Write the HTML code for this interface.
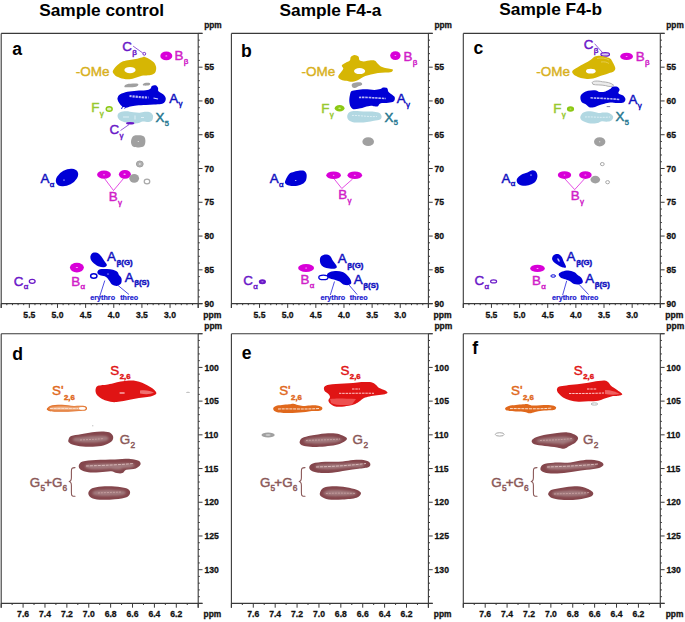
<!DOCTYPE html>
<html><head><meta charset="utf-8"><style>html,body{margin:0;padding:0;background:#fff;}svg{display:block;}</style></head><body>
<svg width="685" height="622" viewBox="0 0 685 622" font-family='"Liberation Sans", sans-serif'>
<defs><filter id="bl" x="-20%" y="-50%" width="140%" height="200%"><feGaussianBlur stdDeviation="0.9"/></filter><filter id="bl2" x="-20%" y="-100%" width="140%" height="300%"><feGaussianBlur stdDeviation="0.35"/></filter></defs>
<rect width="685" height="622" fill="#fff"/>
<text x="39.2" y="15.8" font-size="17.3" fill="#000" font-weight="bold" text-anchor="start" >Sample control</text>
<text x="279.5" y="15.8" font-size="17.3" fill="#000" font-weight="bold" text-anchor="start" >Sample F4-a</text>
<text x="499.3" y="15.1" font-size="17.3" fill="#000" font-weight="bold" text-anchor="start" >Sample F4-b</text>
<path d="M1.2,33.4V307.9M198.2,33.4V307.9M1.2,33.4H202.5M1.2,303.6H202.5" stroke="#3a3a3a" stroke-width="1.1" fill="none"/>
<path d="M1.2,303.6v4.3M6.83,303.6v1.6M12.46,303.6v1.6M18.09,303.6v1.6M23.71,303.6v1.6M29.34,303.6v4.3M34.97,303.6v1.6M40.6,303.6v1.6M46.23,303.6v1.6M51.86,303.6v1.6M57.49,303.6v4.3M63.11,303.6v1.6M68.74,303.6v1.6M74.37,303.6v1.6M80,303.6v1.6M85.63,303.6v4.3M91.26,303.6v1.6M96.89,303.6v1.6M102.51,303.6v1.6M108.14,303.6v1.6M113.77,303.6v4.3M119.4,303.6v1.6M125.03,303.6v1.6M130.66,303.6v1.6M136.29,303.6v1.6M141.91,303.6v4.3M147.54,303.6v1.6M153.17,303.6v1.6M158.8,303.6v1.6M164.43,303.6v1.6M170.06,303.6v4.3M175.69,303.6v1.6M181.31,303.6v1.6M186.94,303.6v1.6M192.57,303.6v1.6M198.2,303.6v4.3" stroke="#3a3a3a" stroke-width="1" fill="none"/>
<text x="29.34" y="317.9" font-size="8.6" fill="#111" font-weight="bold" text-anchor="middle" stroke="#111" stroke-width="0.28">5.5</text>
<text x="57.49" y="317.9" font-size="8.6" fill="#111" font-weight="bold" text-anchor="middle" stroke="#111" stroke-width="0.28">5.0</text>
<text x="85.63" y="317.9" font-size="8.6" fill="#111" font-weight="bold" text-anchor="middle" stroke="#111" stroke-width="0.28">4.5</text>
<text x="113.77" y="317.9" font-size="8.6" fill="#111" font-weight="bold" text-anchor="middle" stroke="#111" stroke-width="0.28">4.0</text>
<text x="141.91" y="317.9" font-size="8.6" fill="#111" font-weight="bold" text-anchor="middle" stroke="#111" stroke-width="0.28">3.5</text>
<text x="170.06" y="317.9" font-size="8.6" fill="#111" font-weight="bold" text-anchor="middle" stroke="#111" stroke-width="0.28">3.0</text>
<path d="M198.2,33.4h4.3M198.2,40.16h1.6M198.2,46.91h1.6M198.2,53.67h1.6M198.2,60.42h1.6M198.2,67.18h4.3M198.2,73.93h1.6M198.2,80.69h1.6M198.2,87.44h1.6M198.2,94.2h1.6M198.2,100.95h4.3M198.2,107.71h1.6M198.2,114.46h1.6M198.2,121.22h1.6M198.2,127.97h1.6M198.2,134.73h4.3M198.2,141.48h1.6M198.2,148.24h1.6M198.2,154.99h1.6M198.2,161.75h1.6M198.2,168.5h4.3M198.2,175.26h1.6M198.2,182.01h1.6M198.2,188.77h1.6M198.2,195.52h1.6M198.2,202.28h4.3M198.2,209.03h1.6M198.2,215.79h1.6M198.2,222.54h1.6M198.2,229.3h1.6M198.2,236.05h4.3M198.2,242.81h1.6M198.2,249.56h1.6M198.2,256.31h1.6M198.2,263.07h1.6M198.2,269.83h4.3M198.2,276.58h1.6M198.2,283.34h1.6M198.2,290.09h1.6M198.2,296.85h1.6M198.2,303.6h4.3" stroke="#3a3a3a" stroke-width="1" fill="none"/>
<text x="204.4" y="70.28" font-size="8.6" fill="#111" font-weight="bold" text-anchor="start" stroke="#111" stroke-width="0.28">55</text>
<text x="204.4" y="104.05" font-size="8.6" fill="#111" font-weight="bold" text-anchor="start" stroke="#111" stroke-width="0.28">60</text>
<text x="204.4" y="137.83" font-size="8.6" fill="#111" font-weight="bold" text-anchor="start" stroke="#111" stroke-width="0.28">65</text>
<text x="204.4" y="171.6" font-size="8.6" fill="#111" font-weight="bold" text-anchor="start" stroke="#111" stroke-width="0.28">70</text>
<text x="204.4" y="205.38" font-size="8.6" fill="#111" font-weight="bold" text-anchor="start" stroke="#111" stroke-width="0.28">75</text>
<text x="204.4" y="239.15" font-size="8.6" fill="#111" font-weight="bold" text-anchor="start" stroke="#111" stroke-width="0.28">80</text>
<text x="204.4" y="272.93" font-size="8.6" fill="#111" font-weight="bold" text-anchor="start" stroke="#111" stroke-width="0.28">85</text>
<text x="204.4" y="306.7" font-size="8.6" fill="#111" font-weight="bold" text-anchor="start" stroke="#111" stroke-width="0.28">90</text>
<text x="204.2" y="28.4" font-size="8.3" fill="#111" font-weight="bold" text-anchor="start" stroke="#111" stroke-width="0.28">ppm</text>
<text x="203.2" y="317.8" font-size="8.6" fill="#111" font-weight="bold" text-anchor="start" stroke="#111" stroke-width="0.28">ppm</text>
<text x="12.3" y="55.4" font-size="17.6" fill="#000" font-weight="bold" text-anchor="start" >a</text>
<path d="M1.2,333.7V607.7M198.2,333.7V607.7M1.2,333.7H202.5M1.2,603.4H202.5" stroke="#3a3a3a" stroke-width="1.1" fill="none"/>
<path d="M1.2,603.4v4.3M12.14,603.4v1.6M23.09,603.4v4.3M34.03,603.4v1.6M44.98,603.4v4.3M55.92,603.4v1.6M66.87,603.4v4.3M77.81,603.4v1.6M88.76,603.4v4.3M99.7,603.4v1.6M110.64,603.4v4.3M121.59,603.4v1.6M132.53,603.4v4.3M143.48,603.4v1.6M154.42,603.4v4.3M165.37,603.4v1.6M176.31,603.4v4.3M187.26,603.4v1.6M198.2,603.4v4.3" stroke="#3a3a3a" stroke-width="1" fill="none"/>
<text x="23.09" y="616.8" font-size="8.6" fill="#111" font-weight="bold" text-anchor="middle" stroke="#111" stroke-width="0.28">7.6</text>
<text x="44.98" y="616.8" font-size="8.6" fill="#111" font-weight="bold" text-anchor="middle" stroke="#111" stroke-width="0.28">7.4</text>
<text x="66.87" y="616.8" font-size="8.6" fill="#111" font-weight="bold" text-anchor="middle" stroke="#111" stroke-width="0.28">7.2</text>
<text x="88.76" y="616.8" font-size="8.6" fill="#111" font-weight="bold" text-anchor="middle" stroke="#111" stroke-width="0.28">7.0</text>
<text x="110.64" y="616.8" font-size="8.6" fill="#111" font-weight="bold" text-anchor="middle" stroke="#111" stroke-width="0.28">6.8</text>
<text x="132.53" y="616.8" font-size="8.6" fill="#111" font-weight="bold" text-anchor="middle" stroke="#111" stroke-width="0.28">6.6</text>
<text x="154.42" y="616.8" font-size="8.6" fill="#111" font-weight="bold" text-anchor="middle" stroke="#111" stroke-width="0.28">6.4</text>
<text x="176.31" y="616.8" font-size="8.6" fill="#111" font-weight="bold" text-anchor="middle" stroke="#111" stroke-width="0.28">6.2</text>
<path d="M198.2,333.7h4.3M198.2,340.44h1.6M198.2,347.19h1.6M198.2,353.93h1.6M198.2,360.67h1.6M198.2,367.41h4.3M198.2,374.15h1.6M198.2,380.9h1.6M198.2,387.64h1.6M198.2,394.38h1.6M198.2,401.12h4.3M198.2,407.87h1.6M198.2,414.61h1.6M198.2,421.35h1.6M198.2,428.09h1.6M198.2,434.84h4.3M198.2,441.58h1.6M198.2,448.32h1.6M198.2,455.06h1.6M198.2,461.81h1.6M198.2,468.55h4.3M198.2,475.29h1.6M198.2,482.03h1.6M198.2,488.78h1.6M198.2,495.52h1.6M198.2,502.26h4.3M198.2,509h1.6M198.2,515.75h1.6M198.2,522.49h1.6M198.2,529.23h1.6M198.2,535.97h4.3M198.2,542.72h1.6M198.2,549.46h1.6M198.2,556.2h1.6M198.2,562.94h1.6M198.2,569.69h4.3M198.2,576.43h1.6M198.2,583.17h1.6M198.2,589.91h1.6M198.2,596.66h1.6M198.2,603.4h4.3" stroke="#3a3a3a" stroke-width="1" fill="none"/>
<text x="204.4" y="370.51" font-size="8.6" fill="#111" font-weight="bold" text-anchor="start" stroke="#111" stroke-width="0.28">100</text>
<text x="204.4" y="404.23" font-size="8.6" fill="#111" font-weight="bold" text-anchor="start" stroke="#111" stroke-width="0.28">105</text>
<text x="204.4" y="437.94" font-size="8.6" fill="#111" font-weight="bold" text-anchor="start" stroke="#111" stroke-width="0.28">110</text>
<text x="204.4" y="471.65" font-size="8.6" fill="#111" font-weight="bold" text-anchor="start" stroke="#111" stroke-width="0.28">115</text>
<text x="204.4" y="505.36" font-size="8.6" fill="#111" font-weight="bold" text-anchor="start" stroke="#111" stroke-width="0.28">120</text>
<text x="204.4" y="539.07" font-size="8.6" fill="#111" font-weight="bold" text-anchor="start" stroke="#111" stroke-width="0.28">125</text>
<text x="204.4" y="572.79" font-size="8.6" fill="#111" font-weight="bold" text-anchor="start" stroke="#111" stroke-width="0.28">130</text>
<text x="204.2" y="328.9" font-size="8.5" fill="#111" font-weight="bold" text-anchor="start" stroke="#111" stroke-width="0.28">ppm</text>
<text x="203.6" y="616.8" font-size="8.4" fill="#111" font-weight="bold" text-anchor="start" stroke="#111" stroke-width="0.28">ppm</text>
<text x="12.3" y="360" font-size="17.6" fill="#000" font-weight="bold" text-anchor="start" >d</text>
<path d="M231.4,33.4V307.9M428.4,33.4V307.9M231.4,33.4H432.7M231.4,303.6H432.7" stroke="#3a3a3a" stroke-width="1.1" fill="none"/>
<path d="M231.4,303.6v4.3M237.03,303.6v1.6M242.66,303.6v1.6M248.29,303.6v1.6M253.91,303.6v1.6M259.54,303.6v4.3M265.17,303.6v1.6M270.8,303.6v1.6M276.43,303.6v1.6M282.06,303.6v1.6M287.69,303.6v4.3M293.31,303.6v1.6M298.94,303.6v1.6M304.57,303.6v1.6M310.2,303.6v1.6M315.83,303.6v4.3M321.46,303.6v1.6M327.09,303.6v1.6M332.71,303.6v1.6M338.34,303.6v1.6M343.97,303.6v4.3M349.6,303.6v1.6M355.23,303.6v1.6M360.86,303.6v1.6M366.49,303.6v1.6M372.11,303.6v4.3M377.74,303.6v1.6M383.37,303.6v1.6M389,303.6v1.6M394.63,303.6v1.6M400.26,303.6v4.3M405.89,303.6v1.6M411.51,303.6v1.6M417.14,303.6v1.6M422.77,303.6v1.6M428.4,303.6v4.3" stroke="#3a3a3a" stroke-width="1" fill="none"/>
<text x="259.54" y="317.9" font-size="8.6" fill="#111" font-weight="bold" text-anchor="middle" stroke="#111" stroke-width="0.28">5.5</text>
<text x="287.69" y="317.9" font-size="8.6" fill="#111" font-weight="bold" text-anchor="middle" stroke="#111" stroke-width="0.28">5.0</text>
<text x="315.83" y="317.9" font-size="8.6" fill="#111" font-weight="bold" text-anchor="middle" stroke="#111" stroke-width="0.28">4.5</text>
<text x="343.97" y="317.9" font-size="8.6" fill="#111" font-weight="bold" text-anchor="middle" stroke="#111" stroke-width="0.28">4.0</text>
<text x="372.11" y="317.9" font-size="8.6" fill="#111" font-weight="bold" text-anchor="middle" stroke="#111" stroke-width="0.28">3.5</text>
<text x="400.26" y="317.9" font-size="8.6" fill="#111" font-weight="bold" text-anchor="middle" stroke="#111" stroke-width="0.28">3.0</text>
<path d="M428.4,33.4h4.3M428.4,40.16h1.6M428.4,46.91h1.6M428.4,53.67h1.6M428.4,60.42h1.6M428.4,67.18h4.3M428.4,73.93h1.6M428.4,80.69h1.6M428.4,87.44h1.6M428.4,94.2h1.6M428.4,100.95h4.3M428.4,107.71h1.6M428.4,114.46h1.6M428.4,121.22h1.6M428.4,127.97h1.6M428.4,134.73h4.3M428.4,141.48h1.6M428.4,148.24h1.6M428.4,154.99h1.6M428.4,161.75h1.6M428.4,168.5h4.3M428.4,175.26h1.6M428.4,182.01h1.6M428.4,188.77h1.6M428.4,195.52h1.6M428.4,202.28h4.3M428.4,209.03h1.6M428.4,215.79h1.6M428.4,222.54h1.6M428.4,229.3h1.6M428.4,236.05h4.3M428.4,242.81h1.6M428.4,249.56h1.6M428.4,256.31h1.6M428.4,263.07h1.6M428.4,269.83h4.3M428.4,276.58h1.6M428.4,283.34h1.6M428.4,290.09h1.6M428.4,296.85h1.6M428.4,303.6h4.3" stroke="#3a3a3a" stroke-width="1" fill="none"/>
<text x="434.6" y="70.28" font-size="8.6" fill="#111" font-weight="bold" text-anchor="start" stroke="#111" stroke-width="0.28">55</text>
<text x="434.6" y="104.05" font-size="8.6" fill="#111" font-weight="bold" text-anchor="start" stroke="#111" stroke-width="0.28">60</text>
<text x="434.6" y="137.83" font-size="8.6" fill="#111" font-weight="bold" text-anchor="start" stroke="#111" stroke-width="0.28">65</text>
<text x="434.6" y="171.6" font-size="8.6" fill="#111" font-weight="bold" text-anchor="start" stroke="#111" stroke-width="0.28">70</text>
<text x="434.6" y="205.38" font-size="8.6" fill="#111" font-weight="bold" text-anchor="start" stroke="#111" stroke-width="0.28">75</text>
<text x="434.6" y="239.15" font-size="8.6" fill="#111" font-weight="bold" text-anchor="start" stroke="#111" stroke-width="0.28">80</text>
<text x="434.6" y="272.93" font-size="8.6" fill="#111" font-weight="bold" text-anchor="start" stroke="#111" stroke-width="0.28">85</text>
<text x="434.6" y="306.7" font-size="8.6" fill="#111" font-weight="bold" text-anchor="start" stroke="#111" stroke-width="0.28">90</text>
<text x="434.4" y="28.4" font-size="8.3" fill="#111" font-weight="bold" text-anchor="start" stroke="#111" stroke-width="0.28">ppm</text>
<text x="433.4" y="317.8" font-size="8.6" fill="#111" font-weight="bold" text-anchor="start" stroke="#111" stroke-width="0.28">ppm</text>
<text x="241.1" y="57.3" font-size="17.6" fill="#000" font-weight="bold" text-anchor="start" >b</text>
<path d="M231.4,333.7V607.7M428.4,333.7V607.7M231.4,333.7H432.7M231.4,603.4H432.7" stroke="#3a3a3a" stroke-width="1.1" fill="none"/>
<path d="M231.4,603.4v4.3M242.34,603.4v1.6M253.29,603.4v4.3M264.23,603.4v1.6M275.18,603.4v4.3M286.12,603.4v1.6M297.07,603.4v4.3M308.01,603.4v1.6M318.96,603.4v4.3M329.9,603.4v1.6M340.84,603.4v4.3M351.79,603.4v1.6M362.73,603.4v4.3M373.68,603.4v1.6M384.62,603.4v4.3M395.57,603.4v1.6M406.51,603.4v4.3M417.46,603.4v1.6M428.4,603.4v4.3" stroke="#3a3a3a" stroke-width="1" fill="none"/>
<text x="253.29" y="616.8" font-size="8.6" fill="#111" font-weight="bold" text-anchor="middle" stroke="#111" stroke-width="0.28">7.6</text>
<text x="275.18" y="616.8" font-size="8.6" fill="#111" font-weight="bold" text-anchor="middle" stroke="#111" stroke-width="0.28">7.4</text>
<text x="297.07" y="616.8" font-size="8.6" fill="#111" font-weight="bold" text-anchor="middle" stroke="#111" stroke-width="0.28">7.2</text>
<text x="318.96" y="616.8" font-size="8.6" fill="#111" font-weight="bold" text-anchor="middle" stroke="#111" stroke-width="0.28">7.0</text>
<text x="340.84" y="616.8" font-size="8.6" fill="#111" font-weight="bold" text-anchor="middle" stroke="#111" stroke-width="0.28">6.8</text>
<text x="362.73" y="616.8" font-size="8.6" fill="#111" font-weight="bold" text-anchor="middle" stroke="#111" stroke-width="0.28">6.6</text>
<text x="384.62" y="616.8" font-size="8.6" fill="#111" font-weight="bold" text-anchor="middle" stroke="#111" stroke-width="0.28">6.4</text>
<text x="406.51" y="616.8" font-size="8.6" fill="#111" font-weight="bold" text-anchor="middle" stroke="#111" stroke-width="0.28">6.2</text>
<path d="M428.4,333.7h4.3M428.4,340.44h1.6M428.4,347.19h1.6M428.4,353.93h1.6M428.4,360.67h1.6M428.4,367.41h4.3M428.4,374.15h1.6M428.4,380.9h1.6M428.4,387.64h1.6M428.4,394.38h1.6M428.4,401.12h4.3M428.4,407.87h1.6M428.4,414.61h1.6M428.4,421.35h1.6M428.4,428.09h1.6M428.4,434.84h4.3M428.4,441.58h1.6M428.4,448.32h1.6M428.4,455.06h1.6M428.4,461.81h1.6M428.4,468.55h4.3M428.4,475.29h1.6M428.4,482.03h1.6M428.4,488.78h1.6M428.4,495.52h1.6M428.4,502.26h4.3M428.4,509h1.6M428.4,515.75h1.6M428.4,522.49h1.6M428.4,529.23h1.6M428.4,535.97h4.3M428.4,542.72h1.6M428.4,549.46h1.6M428.4,556.2h1.6M428.4,562.94h1.6M428.4,569.69h4.3M428.4,576.43h1.6M428.4,583.17h1.6M428.4,589.91h1.6M428.4,596.66h1.6M428.4,603.4h4.3" stroke="#3a3a3a" stroke-width="1" fill="none"/>
<text x="434.6" y="370.51" font-size="8.6" fill="#111" font-weight="bold" text-anchor="start" stroke="#111" stroke-width="0.28">100</text>
<text x="434.6" y="404.23" font-size="8.6" fill="#111" font-weight="bold" text-anchor="start" stroke="#111" stroke-width="0.28">105</text>
<text x="434.6" y="437.94" font-size="8.6" fill="#111" font-weight="bold" text-anchor="start" stroke="#111" stroke-width="0.28">110</text>
<text x="434.6" y="471.65" font-size="8.6" fill="#111" font-weight="bold" text-anchor="start" stroke="#111" stroke-width="0.28">115</text>
<text x="434.6" y="505.36" font-size="8.6" fill="#111" font-weight="bold" text-anchor="start" stroke="#111" stroke-width="0.28">120</text>
<text x="434.6" y="539.07" font-size="8.6" fill="#111" font-weight="bold" text-anchor="start" stroke="#111" stroke-width="0.28">125</text>
<text x="434.6" y="572.79" font-size="8.6" fill="#111" font-weight="bold" text-anchor="start" stroke="#111" stroke-width="0.28">130</text>
<text x="434.4" y="328.9" font-size="8.5" fill="#111" font-weight="bold" text-anchor="start" stroke="#111" stroke-width="0.28">ppm</text>
<text x="433.8" y="616.8" font-size="8.4" fill="#111" font-weight="bold" text-anchor="start" stroke="#111" stroke-width="0.28">ppm</text>
<text x="241.7" y="358.8" font-size="17.6" fill="#000" font-weight="bold" text-anchor="start" >e</text>
<path d="M463.3,33.4V307.9M660.3,33.4V307.9M463.3,33.4H664.6M463.3,303.6H664.6" stroke="#3a3a3a" stroke-width="1.1" fill="none"/>
<path d="M463.3,303.6v4.3M468.93,303.6v1.6M474.56,303.6v1.6M480.19,303.6v1.6M485.81,303.6v1.6M491.44,303.6v4.3M497.07,303.6v1.6M502.7,303.6v1.6M508.33,303.6v1.6M513.96,303.6v1.6M519.59,303.6v4.3M525.21,303.6v1.6M530.84,303.6v1.6M536.47,303.6v1.6M542.1,303.6v1.6M547.73,303.6v4.3M553.36,303.6v1.6M558.99,303.6v1.6M564.61,303.6v1.6M570.24,303.6v1.6M575.87,303.6v4.3M581.5,303.6v1.6M587.13,303.6v1.6M592.76,303.6v1.6M598.39,303.6v1.6M604.01,303.6v4.3M609.64,303.6v1.6M615.27,303.6v1.6M620.9,303.6v1.6M626.53,303.6v1.6M632.16,303.6v4.3M637.79,303.6v1.6M643.41,303.6v1.6M649.04,303.6v1.6M654.67,303.6v1.6M660.3,303.6v4.3" stroke="#3a3a3a" stroke-width="1" fill="none"/>
<text x="491.44" y="317.9" font-size="8.6" fill="#111" font-weight="bold" text-anchor="middle" stroke="#111" stroke-width="0.28">5.5</text>
<text x="519.59" y="317.9" font-size="8.6" fill="#111" font-weight="bold" text-anchor="middle" stroke="#111" stroke-width="0.28">5.0</text>
<text x="547.73" y="317.9" font-size="8.6" fill="#111" font-weight="bold" text-anchor="middle" stroke="#111" stroke-width="0.28">4.5</text>
<text x="575.87" y="317.9" font-size="8.6" fill="#111" font-weight="bold" text-anchor="middle" stroke="#111" stroke-width="0.28">4.0</text>
<text x="604.01" y="317.9" font-size="8.6" fill="#111" font-weight="bold" text-anchor="middle" stroke="#111" stroke-width="0.28">3.5</text>
<text x="632.16" y="317.9" font-size="8.6" fill="#111" font-weight="bold" text-anchor="middle" stroke="#111" stroke-width="0.28">3.0</text>
<path d="M660.3,33.4h4.3M660.3,40.16h1.6M660.3,46.91h1.6M660.3,53.67h1.6M660.3,60.42h1.6M660.3,67.18h4.3M660.3,73.93h1.6M660.3,80.69h1.6M660.3,87.44h1.6M660.3,94.2h1.6M660.3,100.95h4.3M660.3,107.71h1.6M660.3,114.46h1.6M660.3,121.22h1.6M660.3,127.97h1.6M660.3,134.73h4.3M660.3,141.48h1.6M660.3,148.24h1.6M660.3,154.99h1.6M660.3,161.75h1.6M660.3,168.5h4.3M660.3,175.26h1.6M660.3,182.01h1.6M660.3,188.77h1.6M660.3,195.52h1.6M660.3,202.28h4.3M660.3,209.03h1.6M660.3,215.79h1.6M660.3,222.54h1.6M660.3,229.3h1.6M660.3,236.05h4.3M660.3,242.81h1.6M660.3,249.56h1.6M660.3,256.31h1.6M660.3,263.07h1.6M660.3,269.83h4.3M660.3,276.58h1.6M660.3,283.34h1.6M660.3,290.09h1.6M660.3,296.85h1.6M660.3,303.6h4.3" stroke="#3a3a3a" stroke-width="1" fill="none"/>
<text x="666.5" y="70.28" font-size="8.6" fill="#111" font-weight="bold" text-anchor="start" stroke="#111" stroke-width="0.28">55</text>
<text x="666.5" y="104.05" font-size="8.6" fill="#111" font-weight="bold" text-anchor="start" stroke="#111" stroke-width="0.28">60</text>
<text x="666.5" y="137.83" font-size="8.6" fill="#111" font-weight="bold" text-anchor="start" stroke="#111" stroke-width="0.28">65</text>
<text x="666.5" y="171.6" font-size="8.6" fill="#111" font-weight="bold" text-anchor="start" stroke="#111" stroke-width="0.28">70</text>
<text x="666.5" y="205.38" font-size="8.6" fill="#111" font-weight="bold" text-anchor="start" stroke="#111" stroke-width="0.28">75</text>
<text x="666.5" y="239.15" font-size="8.6" fill="#111" font-weight="bold" text-anchor="start" stroke="#111" stroke-width="0.28">80</text>
<text x="666.5" y="272.93" font-size="8.6" fill="#111" font-weight="bold" text-anchor="start" stroke="#111" stroke-width="0.28">85</text>
<text x="666.5" y="306.7" font-size="8.6" fill="#111" font-weight="bold" text-anchor="start" stroke="#111" stroke-width="0.28">90</text>
<text x="666.3" y="28.4" font-size="8.3" fill="#111" font-weight="bold" text-anchor="start" stroke="#111" stroke-width="0.28">ppm</text>
<text x="665.3" y="317.8" font-size="8.6" fill="#111" font-weight="bold" text-anchor="start" stroke="#111" stroke-width="0.28">ppm</text>
<text x="473.5" y="54.3" font-size="17.6" fill="#000" font-weight="bold" text-anchor="start" >c</text>
<path d="M463.3,333.7V607.7M660.3,333.7V607.7M463.3,333.7H664.6M463.3,603.4H664.6" stroke="#3a3a3a" stroke-width="1.1" fill="none"/>
<path d="M463.3,603.4v4.3M474.24,603.4v1.6M485.19,603.4v4.3M496.13,603.4v1.6M507.08,603.4v4.3M518.02,603.4v1.6M528.97,603.4v4.3M539.91,603.4v1.6M550.86,603.4v4.3M561.8,603.4v1.6M572.74,603.4v4.3M583.69,603.4v1.6M594.63,603.4v4.3M605.58,603.4v1.6M616.52,603.4v4.3M627.47,603.4v1.6M638.41,603.4v4.3M649.36,603.4v1.6M660.3,603.4v4.3" stroke="#3a3a3a" stroke-width="1" fill="none"/>
<text x="485.19" y="616.8" font-size="8.6" fill="#111" font-weight="bold" text-anchor="middle" stroke="#111" stroke-width="0.28">7.6</text>
<text x="507.08" y="616.8" font-size="8.6" fill="#111" font-weight="bold" text-anchor="middle" stroke="#111" stroke-width="0.28">7.4</text>
<text x="528.97" y="616.8" font-size="8.6" fill="#111" font-weight="bold" text-anchor="middle" stroke="#111" stroke-width="0.28">7.2</text>
<text x="550.86" y="616.8" font-size="8.6" fill="#111" font-weight="bold" text-anchor="middle" stroke="#111" stroke-width="0.28">7.0</text>
<text x="572.74" y="616.8" font-size="8.6" fill="#111" font-weight="bold" text-anchor="middle" stroke="#111" stroke-width="0.28">6.8</text>
<text x="594.63" y="616.8" font-size="8.6" fill="#111" font-weight="bold" text-anchor="middle" stroke="#111" stroke-width="0.28">6.6</text>
<text x="616.52" y="616.8" font-size="8.6" fill="#111" font-weight="bold" text-anchor="middle" stroke="#111" stroke-width="0.28">6.4</text>
<text x="638.41" y="616.8" font-size="8.6" fill="#111" font-weight="bold" text-anchor="middle" stroke="#111" stroke-width="0.28">6.2</text>
<path d="M660.3,333.7h4.3M660.3,340.44h1.6M660.3,347.19h1.6M660.3,353.93h1.6M660.3,360.67h1.6M660.3,367.41h4.3M660.3,374.15h1.6M660.3,380.9h1.6M660.3,387.64h1.6M660.3,394.38h1.6M660.3,401.12h4.3M660.3,407.87h1.6M660.3,414.61h1.6M660.3,421.35h1.6M660.3,428.09h1.6M660.3,434.84h4.3M660.3,441.58h1.6M660.3,448.32h1.6M660.3,455.06h1.6M660.3,461.81h1.6M660.3,468.55h4.3M660.3,475.29h1.6M660.3,482.03h1.6M660.3,488.78h1.6M660.3,495.52h1.6M660.3,502.26h4.3M660.3,509h1.6M660.3,515.75h1.6M660.3,522.49h1.6M660.3,529.23h1.6M660.3,535.97h4.3M660.3,542.72h1.6M660.3,549.46h1.6M660.3,556.2h1.6M660.3,562.94h1.6M660.3,569.69h4.3M660.3,576.43h1.6M660.3,583.17h1.6M660.3,589.91h1.6M660.3,596.66h1.6M660.3,603.4h4.3" stroke="#3a3a3a" stroke-width="1" fill="none"/>
<text x="666.5" y="370.51" font-size="8.6" fill="#111" font-weight="bold" text-anchor="start" stroke="#111" stroke-width="0.28">100</text>
<text x="666.5" y="404.23" font-size="8.6" fill="#111" font-weight="bold" text-anchor="start" stroke="#111" stroke-width="0.28">105</text>
<text x="666.5" y="437.94" font-size="8.6" fill="#111" font-weight="bold" text-anchor="start" stroke="#111" stroke-width="0.28">110</text>
<text x="666.5" y="471.65" font-size="8.6" fill="#111" font-weight="bold" text-anchor="start" stroke="#111" stroke-width="0.28">115</text>
<text x="666.5" y="505.36" font-size="8.6" fill="#111" font-weight="bold" text-anchor="start" stroke="#111" stroke-width="0.28">120</text>
<text x="666.5" y="539.07" font-size="8.6" fill="#111" font-weight="bold" text-anchor="start" stroke="#111" stroke-width="0.28">125</text>
<text x="666.5" y="572.79" font-size="8.6" fill="#111" font-weight="bold" text-anchor="start" stroke="#111" stroke-width="0.28">130</text>
<text x="666.3" y="328.9" font-size="8.5" fill="#111" font-weight="bold" text-anchor="start" stroke="#111" stroke-width="0.28">ppm</text>
<text x="665.7" y="616.8" font-size="8.4" fill="#111" font-weight="bold" text-anchor="start" stroke="#111" stroke-width="0.28">ppm</text>
<text x="472.3" y="354.4" font-size="17.6" fill="#000" font-weight="bold" text-anchor="start" >f</text>
<text x="122.3" y="50.7" font-size="13.4" fill="#6a18c8" stroke="#6a18c8" stroke-width="0.45">C<tspan dx="0.3" dy="3.8" font-size="8" font-weight="normal">β</tspan></text>
<line x1="133.1" y1="46.1" x2="142.8" y2="53" stroke="#6a18c8" stroke-width="0.7"/>
<ellipse cx="144.3" cy="53.8" rx="1.4" ry="1.4" fill="none" stroke="#6a18c8" stroke-width="0.9"/>
<ellipse cx="166.3" cy="55.9" rx="6" ry="4.3" fill="#d800d8"/>
<ellipse cx="166.3" cy="55.9" rx="1" ry="0.6" fill="#f8a0f8"/>
<text x="174.6" y="60.3" font-size="13.4" fill="#d020c8" stroke="#d020c8" stroke-width="0.45">B<tspan dx="0.3" dy="3.8" font-size="8" font-weight="normal">β</tspan></text>
<path d="M113,70.5C113.68,69.02 116.13,66.33 117.8,64.8C119.47,63.27 121.05,62.12 123,61.3C124.95,60.48 127.38,60.3 129.5,59.9C131.62,59.5 133.65,59.32 135.7,58.9C137.75,58.48 140.27,57.73 141.8,57.4C143.33,57.07 143.53,56.57 144.9,56.9C146.27,57.23 148.48,58.47 150,59.4C151.52,60.33 152.98,61.22 154,62.5C155.02,63.78 155.83,65.57 156.1,67.1C156.37,68.63 156.12,70.52 155.6,71.7C155.08,72.88 154.28,73.6 153,74.2C151.72,74.8 149.77,75.03 147.9,75.3C146.03,75.57 143.83,75.38 141.8,75.8C139.77,76.22 137.75,77.22 135.7,77.8C133.65,78.38 131.55,79.13 129.5,79.3C127.45,79.47 125.43,79.22 123.4,78.8C121.37,78.38 118.92,77.65 117.3,76.8C115.68,75.95 114.42,74.75 113.7,73.7C112.98,72.65 112.32,71.98 113,70.5Z" fill="#d6b604" />
<ellipse cx="130" cy="70.1" rx="5.6" ry="3.2" fill="#fff"/>
<text x="75.8" y="76.2" font-size="13.5" fill="#d8b020" font-weight="normal" text-anchor="start" stroke="#d8b020" stroke-width="0.4">-OMe</text>
<path d="M124.4,86.5C124.57,85.98 124.78,84.65 127,84.2C129.22,83.75 136.2,83.37 137.7,83.8C139.2,84.23 137.95,86.22 136,86.8C134.05,87.38 127.93,87.35 126,87.3C124.07,87.25 124.23,87.02 124.4,86.5Z" fill="#a0a0a0" />
<path d="M142.8,84.5C142.97,84.07 143.8,83.22 145,83C146.2,82.78 149.33,82.82 150,83.2C150.67,83.58 150,84.9 149,85.3C148,85.7 145.03,85.73 144,85.6C142.97,85.47 142.63,84.93 142.8,84.5Z" fill="#a0a0a0" />
<path d="M117.7,97.4C118.12,96.47 118.58,95.23 120.2,94.3C121.82,93.37 124.67,92.4 127.4,91.8C130.13,91.2 133.53,90.97 136.6,90.7C139.67,90.43 143.5,90.53 145.8,90.2C148.1,89.87 149.38,89.38 150.4,88.7C151.42,88.02 151.05,86.67 151.9,86.1C152.75,85.53 154.48,85.03 155.5,85.3C156.52,85.57 157.5,86.72 158,87.7C158.5,88.68 157.65,90.1 158.5,91.2C159.35,92.3 161.9,93.18 163.1,94.3C164.3,95.42 165.43,96.62 165.7,97.9C165.97,99.18 165.47,100.98 164.7,102C163.93,103.02 162.9,103.58 161.1,104C159.3,104.42 156.45,104.33 153.9,104.5C151.35,104.67 148.68,104.83 145.8,105C142.92,105.17 139.17,105.23 136.6,105.5C134.03,105.77 132.12,106.25 130.4,106.6C128.68,106.95 127.65,107.6 126.3,107.6C124.95,107.6 123.48,107.37 122.3,106.6C121.12,105.83 119.97,104.12 119.2,103C118.43,101.88 117.95,100.83 117.7,99.9C117.45,98.97 117.28,98.33 117.7,97.4Z" fill="#0000d6" />
<path d="M129.5,96 C134,96.5 141,97.5 148.5,97.5" stroke="#b8b8f4" stroke-width="2.2" fill="none" stroke-dasharray="2.2 0.9" filter="url(#bl2)"/>
<path d="M153.5,98 L158,99" stroke="#d8d8ff" stroke-width="1.2" fill="none"/>
<text x="169.2" y="102.6" font-size="13.4" fill="#1010c0" stroke="#1010c0" stroke-width="0.45">A<tspan dx="0.3" dy="3.8" font-size="8" font-weight="normal">γ</tspan></text>
<path d="M121.5,109 L123.5,104.5 L126,103.8 L127.5,106 L124.5,108.5" stroke="#0000d6" stroke-width="0.9" fill="none"/>
<text x="91.2" y="112.2" font-size="13.4" fill="#98c830" stroke="#98c830" stroke-width="0.45">F<tspan dx="0.3" dy="3.8" font-size="8" font-weight="normal">γ</tspan></text>
<ellipse cx="109.2" cy="109" rx="3" ry="2.3" fill="#e0f0c0" stroke="#8cc814" stroke-width="1.4"/>
<path d="M117.7,114.7C118.03,113.68 118.77,112.78 120.2,112.2C121.63,111.62 124.08,111.2 126.3,111.2C128.52,111.2 131.28,111.95 133.5,112.2C135.72,112.45 137.73,112.78 139.6,112.7C141.47,112.62 142.98,111.78 144.7,111.7C146.42,111.62 148.53,111.6 149.9,112.2C151.27,112.8 152.48,114.02 152.9,115.3C153.32,116.58 153.08,118.8 152.4,119.9C151.72,121 150.42,121.65 148.8,121.9C147.18,122.15 144.4,121.23 142.7,121.4C141,121.57 139.97,122.57 138.6,122.9C137.23,123.23 136.2,123.4 134.5,123.4C132.8,123.4 130.62,123.32 128.4,122.9C126.18,122.48 122.9,121.67 121.2,120.9C119.5,120.13 118.78,119.33 118.2,118.3C117.62,117.27 117.37,115.72 117.7,114.7Z" fill="#b2d8e2" />
<path d="M123,117 h6 M135,115.5 v4 M141,117.5 h3" stroke="#e0f0f6" stroke-width="1" fill="none"/>
<text x="155.6" y="122.2" font-size="13.4" fill="#287890" stroke="#287890" stroke-width="0.45">X<tspan dx="0.3" dy="3.8" font-size="7.5" font-weight="normal">5</tspan></text>
<text x="109.6" y="134.4" font-size="13.4" fill="#6a18c8" stroke="#6a18c8" stroke-width="0.45">C<tspan dx="0.3" dy="3.8" font-size="8" font-weight="normal">γ</tspan></text>
<line x1="120.5" y1="130.5" x2="129" y2="124.6" stroke="#6a18c8" stroke-width="0.7"/>
<ellipse cx="130.2" cy="123.2" rx="4.2" ry="1.3" fill="#6a18c8"/>
<path d="M131.5,139C131.97,137.72 132.75,136.42 134,135.8C135.25,135.18 137.33,135.18 139,135.3C140.67,135.42 142.93,135.55 144,136.5C145.07,137.45 145.4,139.42 145.4,141C145.4,142.58 145.07,144.93 144,146C142.93,147.07 140.75,147.27 139,147.4C137.25,147.53 134.8,147.45 133.5,146.8C132.2,146.15 131.53,144.8 131.2,143.5C130.87,142.2 131.03,140.28 131.5,139Z" fill="#a0a0a0" />
<ellipse cx="138.3" cy="141.5" rx="0.6" ry="0.6" fill="#f0f0f0"/>
<ellipse cx="139.8" cy="164" rx="3.4" ry="3" fill="#b0b0b0" stroke="#a0a0a0" stroke-width="1"/>
<ellipse cx="139.8" cy="164" rx="1" ry="0.8" fill="#f0f0f0"/>
<ellipse cx="67" cy="177.5" rx="12" ry="7.6" fill="#0000d6" transform="rotate(-28 67 177.5)"/>
<ellipse cx="64" cy="180" rx="1" ry="0.6" fill="#c0c0ff"/>
<text x="40.4" y="183.2" font-size="13.4" fill="#1010c0" stroke="#1010c0" stroke-width="0.45">A<tspan dx="0.3" dy="3.8" font-size="8" font-weight="normal">α</tspan></text>
<ellipse cx="104" cy="174.7" rx="6.9" ry="4.1" fill="#d800d8"/>
<ellipse cx="124.9" cy="174.3" rx="6" ry="4.4" fill="#d800d8"/>
<ellipse cx="104" cy="174.7" rx="1" ry="0.5" fill="#f8b0f8"/>
<ellipse cx="124.6" cy="174.3" rx="1.2" ry="0.7" fill="#f8b0f8"/>
<path d="M104.5,178.5 L113.5,190.5 L123.5,178.5" stroke="#d800d8" stroke-width="0.7" fill="none"/>
<text x="108.7" y="201.2" font-size="13.4" fill="#d020c8" stroke="#d020c8" stroke-width="0.45">B<tspan dx="0.3" dy="3.8" font-size="8" font-weight="normal">γ</tspan></text>
<ellipse cx="134.2" cy="178.3" rx="4.9" ry="4.4" fill="#a0a0a0"/>
<ellipse cx="147" cy="181.5" rx="2.8" ry="2.4" fill="none" stroke="#a8a8a8" stroke-width="1.2"/>
<text x="13.7" y="285.5" font-size="13.4" fill="#6a18c8" stroke="#6a18c8" stroke-width="0.45">C<tspan dx="0.3" dy="3.8" font-size="8" font-weight="normal">α</tspan></text>
<ellipse cx="32.2" cy="281.3" rx="2.9" ry="2" fill="none" stroke="#6a18c8" stroke-width="1.3"/>
<ellipse cx="76.9" cy="267.6" rx="7" ry="4.8" fill="#d800d8"/>
<ellipse cx="76.9" cy="267.6" rx="1.2" ry="0.5" fill="#f8b0f8"/>
<text x="71.2" y="285.5" font-size="13.4" fill="#d020c8" stroke="#d020c8" stroke-width="0.45">B<tspan dx="0.3" dy="3.8" font-size="8" font-weight="normal">α</tspan></text>
<path d="M90.5,256C90.83,254.8 91.92,253.33 93,252.8C94.08,252.27 95.67,252.27 97,252.8C98.33,253.33 99.83,254.72 101,256C102.17,257.28 103.02,259 104,260.5C104.98,262 106.9,263.88 106.9,265C106.9,266.12 105.32,266.95 104,267.2C102.68,267.45 100.67,267.12 99,266.5C97.33,265.88 95.33,264.58 94,263.5C92.67,262.42 91.58,261.25 91,260C90.42,258.75 90.17,257.2 90.5,256Z" fill="#0000d6" />
<text x="107" y="260.7" font-size="13.4" fill="#1010c0" stroke="#1010c0" stroke-width="0.45">A<tspan dx="0.6" dy="4.3" font-size="7.8" font-weight="bold">β(G)</tspan></text>
<path d="M97.5,271.5C97.83,270.7 98.42,269.62 100,269.2C101.58,268.78 104.83,268.9 107,269C109.17,269.1 111.25,269.3 113,269.8C114.75,270.3 116.5,271.13 117.5,272C118.5,272.87 118.33,273.92 119,275C119.67,276.08 121.17,277.08 121.5,278.5C121.83,279.92 121.75,282.27 121,283.5C120.25,284.73 118.5,285.73 117,285.9C115.5,286.07 113.25,285.32 112,284.5C110.75,283.68 110.5,282.25 109.5,281C108.5,279.75 107.42,277.9 106,277C104.58,276.1 102.33,276.1 101,275.6C99.67,275.1 98.58,274.68 98,274C97.42,273.32 97.17,272.3 97.5,271.5Z" fill="#0000d6" />
<ellipse cx="93.8" cy="276" rx="3.2" ry="2.2" fill="none" stroke="#0000d6" stroke-width="1.4"/>
<ellipse cx="108" cy="274" rx="1.2" ry="0.4" fill="#c0c0ff"/>
<text x="124.7" y="281.9" font-size="13.4" fill="#1010c0" stroke="#1010c0" stroke-width="0.45">A<tspan dx="0.6" dy="3.1" font-size="7.8" font-weight="bold">β(S)</tspan></text>
<line x1="104.8" y1="280.5" x2="99.5" y2="297" stroke="#0000d6" stroke-width="0.7"/>
<line x1="117.5" y1="285" x2="129" y2="294.5" stroke="#0000d6" stroke-width="0.7"/>
<text x="90.3" y="300.4" font-size="7.2" fill="#2020d0" font-weight="bold" text-anchor="start" stroke="#2020d0" stroke-width="0.2">erythro</text>
<text x="120.2" y="300.4" font-size="7.2" fill="#2020d0" font-weight="bold" text-anchor="start" stroke="#2020d0" stroke-width="0.2">threo</text>
<ellipse cx="395.4" cy="55.6" rx="5.2" ry="4.3" fill="#d800d8"/>
<ellipse cx="395.4" cy="55.6" rx="0.9" ry="0.5" fill="#f8a0f8"/>
<text x="403.6" y="61" font-size="13.4" fill="#d020c8" stroke="#d020c8" stroke-width="0.45">B<tspan dx="0.3" dy="3.8" font-size="8" font-weight="normal">β</tspan></text>
<path d="M338.2,76.7C338.2,75.43 340.35,73.47 341.2,72.1C342.05,70.73 343.2,69.62 343.3,68.5C343.4,67.38 341.47,66.33 341.8,65.4C342.13,64.47 343.97,63.7 345.3,62.9C346.63,62.1 348.88,61.58 349.8,60.6C350.72,59.62 350.02,57.93 350.8,57C351.58,56.07 353.23,55.07 354.5,55C355.77,54.93 357.55,55.72 358.4,56.6C359.25,57.48 358.72,59.5 359.6,60.3C360.48,61.1 361.82,61.4 363.7,61.4C365.58,61.4 369.02,60.4 370.9,60.3C372.78,60.2 373.82,60.2 375,60.8C376.18,61.4 376.82,62.87 378,63.9C379.18,64.93 380.4,66.23 382.1,67C383.8,67.77 386.42,68.08 388.2,68.5C389.98,68.92 392.28,68.9 392.8,69.5C393.32,70.1 392.57,71.58 391.3,72.1C390.03,72.62 387.42,72.43 385.2,72.6C382.98,72.77 380.38,72.77 378,73.1C375.62,73.43 373.28,74 370.9,74.6C368.52,75.2 365.75,75.85 363.7,76.7C361.65,77.55 360.47,78.85 358.6,79.7C356.73,80.55 354.53,81.62 352.5,81.8C350.47,81.98 348.28,81.15 346.4,80.8C344.52,80.45 342.57,80.38 341.2,79.7C339.83,79.02 338.2,77.97 338.2,76.7Z" fill="#d6b604" />
<ellipse cx="359.6" cy="71.1" rx="5.6" ry="3" fill="#fff"/>
<text x="301.4" y="75.8" font-size="13.5" fill="#d8b020" font-weight="normal" text-anchor="start" stroke="#d8b020" stroke-width="0.4">-OMe</text>
<path d="M352,84C352.62,83.27 354.5,82.85 356,82.6C357.5,82.35 360,82.13 361,82.5C362,82.87 362.5,84.13 362,84.8C361.5,85.47 359.17,85.97 358,86.5C356.83,87.03 355.95,87.92 355,88C354.05,88.08 352.8,87.67 352.3,87C351.8,86.33 351.38,84.73 352,84Z" fill="#a0a0a0" />
<path d="M349.9,95.2C350.28,93.55 350.43,91.98 351.6,91.1C352.77,90.22 354.67,90.2 356.9,89.9C359.13,89.6 362.08,89.3 365,89.3C367.92,89.3 371.87,89.93 374.4,89.9C376.93,89.87 378.75,89.48 380.2,89.1C381.65,88.72 381.93,87.75 383.1,87.6C384.27,87.45 386.32,87.52 387.2,88.2C388.08,88.88 387.62,90.63 388.4,91.7C389.18,92.77 390.83,93.63 391.9,94.6C392.97,95.57 394.52,96.33 394.8,97.5C395.08,98.67 394.67,100.72 393.6,101.6C392.53,102.48 390.63,102.5 388.4,102.8C386.17,103.1 381.95,102.82 380.2,103.4C378.45,103.98 378.87,105.82 377.9,106.3C376.93,106.78 375.57,106.4 374.4,106.3C373.23,106.2 372.47,105.6 370.9,105.7C369.33,105.8 366.95,106.42 365,106.9C363.05,107.38 361.13,108.22 359.2,108.6C357.27,108.98 354.87,109.58 353.4,109.2C351.93,108.82 351.08,107.67 350.4,106.3C349.72,104.93 349.38,102.85 349.3,101C349.22,99.15 349.52,96.85 349.9,95.2Z" fill="#0000d6" />
<path d="M359,97.5 C366,97 375,98 386,98.5" stroke="#b8b8f4" stroke-width="1.6" fill="none" stroke-dasharray="2.5 0.8" filter="url(#bl2)"/>
<text x="396.8" y="102.8" font-size="13.4" fill="#1010c0" stroke="#1010c0" stroke-width="0.45">A<tspan dx="0.3" dy="3.8" font-size="8" font-weight="normal">γ</tspan></text>
<text x="321.3" y="113.4" font-size="13.4" fill="#98c830" stroke="#98c830" stroke-width="0.45">F<tspan dx="0.3" dy="3.8" font-size="8" font-weight="normal">γ</tspan></text>
<ellipse cx="339.6" cy="108.3" rx="4.9" ry="3.2" fill="#8cc814"/>
<ellipse cx="339.6" cy="108.3" rx="1.4" ry="0.8" fill="#c8f080"/>
<path d="M347.2,116.2C347.27,114.97 347.97,113.47 349,112.6C350.03,111.73 351.57,111.23 353.4,111C355.23,110.77 357.73,111.1 360,111.2C362.27,111.3 364.67,111.5 367,111.6C369.33,111.7 371.92,111.57 374,111.8C376.08,112.03 378.23,112.22 379.5,113C380.77,113.78 381.52,115.4 381.6,116.5C381.68,117.6 381.27,118.88 380,119.6C378.73,120.32 376.17,120.4 374,120.8C371.83,121.2 369.33,121.7 367,122C364.67,122.3 362.33,122.57 360,122.6C357.67,122.63 354.9,122.63 353,122.2C351.1,121.77 349.57,121 348.6,120C347.63,119 347.13,117.43 347.2,116.2Z" fill="#b2d8e2" />
<path d="M352,115.5 C358,115 366,117 377,116.5" stroke="#e0f0f6" stroke-width="0.9" fill="none" filter="url(#bl2)" stroke-dasharray="2 1"/>
<text x="384.4" y="121.6" font-size="13.4" fill="#287890" stroke="#287890" stroke-width="0.45">X<tspan dx="0.3" dy="3.8" font-size="7.5" font-weight="normal">5</tspan></text>
<ellipse cx="368.2" cy="141.7" rx="5.8" ry="4.4" fill="#a0a0a0"/>
<path d="M285.4,180.4C286.02,178.82 287.63,175.35 289.1,173.9C290.57,172.45 292.38,172.27 294.2,171.7C296.02,171.13 298.3,170.62 300,170.5C301.7,170.38 303.3,170.32 304.4,171C305.5,171.68 306.35,173.03 306.6,174.6C306.85,176.17 306.63,178.82 305.9,180.4C305.17,181.98 303.9,183.17 302.2,184.1C300.5,185.03 297.88,185.77 295.7,186C293.52,186.23 290.82,185.93 289.1,185.5C287.38,185.07 286.02,184.25 285.4,183.4C284.78,182.55 284.78,181.98 285.4,180.4Z" fill="#0000d6" />
<ellipse cx="295.7" cy="180.4" rx="0.8" ry="0.5" fill="#c0c0ff"/>
<text x="269.8" y="183.4" font-size="13.4" fill="#1010c0" stroke="#1010c0" stroke-width="0.45">A<tspan dx="0.3" dy="3.8" font-size="8" font-weight="normal">α</tspan></text>
<ellipse cx="333.6" cy="175.2" rx="7.3" ry="3.8" fill="#d800d8"/>
<ellipse cx="354.8" cy="175.2" rx="7.3" ry="3.8" fill="#d800d8"/>
<ellipse cx="333.6" cy="175.2" rx="0.8" ry="0.5" fill="#f8b0f8"/>
<ellipse cx="354.8" cy="175.2" rx="1" ry="0.5" fill="#f8b0f8"/>
<path d="M333.6,178.2 L341.8,188.5 L352.6,179" stroke="#d800d8" stroke-width="0.7" fill="none"/>
<text x="338.3" y="199.4" font-size="13.4" fill="#d020c8" stroke="#d020c8" stroke-width="0.45">B<tspan dx="0.3" dy="3.8" font-size="8" font-weight="normal">γ</tspan></text>
<text x="243.3" y="285.3" font-size="13.4" fill="#6a18c8" stroke="#6a18c8" stroke-width="0.45">C<tspan dx="0.3" dy="3.8" font-size="8" font-weight="normal">α</tspan></text>
<ellipse cx="262.4" cy="281.8" rx="3.6" ry="2.5" fill="#6a18c8"/>
<ellipse cx="262.4" cy="281.8" rx="1.2" ry="0.7" fill="#a070e0"/>
<ellipse cx="306.1" cy="268" rx="8" ry="4" fill="#d800d8"/>
<ellipse cx="306.1" cy="268" rx="1" ry="0.5" fill="#f8b0f8"/>
<text x="300.6" y="284.4" font-size="13.4" fill="#d020c8" stroke="#d020c8" stroke-width="0.45">B<tspan dx="0.3" dy="3.8" font-size="8" font-weight="normal">α</tspan></text>
<path d="M319.9,259.6C320.02,258.27 320.42,256.85 321.4,256C322.38,255.15 324.35,254.5 325.8,254.5C327.25,254.5 328.88,254.9 330.1,256C331.32,257.1 332,259.4 333.1,261.1C334.2,262.8 336.33,264.98 336.7,266.2C337.07,267.42 336.52,268.03 335.3,268.4C334.08,268.77 331.35,268.65 329.4,268.4C327.45,268.15 325.05,267.63 323.6,266.9C322.15,266.17 321.32,265.22 320.7,264C320.08,262.78 319.78,260.93 319.9,259.6Z" fill="#0000d6" />
<text x="337.8" y="263.2" font-size="13.4" fill="#1010c0" stroke="#1010c0" stroke-width="0.45">A<tspan dx="0.6" dy="4.3" font-size="7.8" font-weight="bold">β(G)</tspan></text>
<path d="M327.2,274.2C327.68,273.47 328.52,272.53 330.1,272C331.68,271.47 334.62,271 336.7,271C338.78,271 340.9,271.35 342.6,272C344.3,272.65 345.68,273.8 346.9,274.9C348.12,276 349.17,277.25 349.9,278.6C350.63,279.95 351.55,281.92 351.3,283C351.05,284.08 349.73,284.87 348.4,285.1C347.07,285.33 344.77,285 343.3,284.4C341.83,283.8 340.93,282.23 339.6,281.5C338.27,280.77 336.88,280.48 335.3,280C333.72,279.52 331.45,279.2 330.1,278.6C328.75,278 327.68,277.13 327.2,276.4C326.72,275.67 326.72,274.93 327.2,274.2Z" fill="#0000d6" />
<ellipse cx="323.4" cy="277.4" rx="4.6" ry="2.2" fill="none" stroke="#0000d6" stroke-width="1.3"/>
<text x="353.8" y="283.7" font-size="13.4" fill="#1010c0" stroke="#1010c0" stroke-width="0.45">A<tspan dx="0.6" dy="3.8" font-size="7.8" font-weight="bold">β(S)</tspan></text>
<line x1="334.5" y1="281.5" x2="330.3" y2="295" stroke="#0000d6" stroke-width="0.7"/>
<line x1="349.1" y1="285.1" x2="357.2" y2="294.6" stroke="#0000d6" stroke-width="0.7"/>
<text x="320.5" y="300.4" font-size="7.2" fill="#2020d0" font-weight="bold" text-anchor="start" stroke="#2020d0" stroke-width="0.2">erythro</text>
<text x="349.7" y="300.4" font-size="7.2" fill="#2020d0" font-weight="bold" text-anchor="start" stroke="#2020d0" stroke-width="0.2">threo</text>
<text x="583.8" y="49" font-size="13.4" fill="#6a18c8" stroke="#6a18c8" stroke-width="0.45">C<tspan dx="0.3" dy="3.8" font-size="8" font-weight="normal">β</tspan></text>
<line x1="594.6" y1="43.7" x2="602.8" y2="52.9" stroke="#6a18c8" stroke-width="0.7"/>
<ellipse cx="605.2" cy="54.4" rx="4.3" ry="1.7" fill="#d8c8f0" stroke="#6a18c8" stroke-width="1.2"/>
<ellipse cx="626.6" cy="56.4" rx="6.4" ry="3.7" fill="#d800d8"/>
<ellipse cx="626.6" cy="56.4" rx="1" ry="0.5" fill="#f8a0f8"/>
<text x="635.8" y="61.3" font-size="13.4" fill="#d020c8" stroke="#d020c8" stroke-width="0.45">B<tspan dx="0.3" dy="3.8" font-size="8" font-weight="normal">β</tspan></text>
<path d="M572.4,71C572.98,70.07 574.72,69.1 576.4,68C578.08,66.9 580.6,65.43 582.5,64.4C584.4,63.37 586.2,62.73 587.8,61.8C589.4,60.87 590.93,59.67 592.1,58.8C593.27,57.93 593.48,57.12 594.8,56.6C596.12,56.08 598.1,55.63 600,55.7C601.9,55.77 604.45,56.48 606.2,57C607.95,57.52 609.42,57.92 610.5,58.8C611.58,59.68 612.03,61.13 612.7,62.3C613.37,63.47 614.07,64.72 614.5,65.8C614.93,66.88 615.45,67.85 615.3,68.8C615.15,69.75 614.68,70.77 613.6,71.5C612.52,72.23 610.48,72.62 608.8,73.2C607.12,73.78 605.25,74.42 603.5,75C601.75,75.58 600.05,76.12 598.3,76.7C596.55,77.28 594.9,78.13 593,78.5C591.1,78.87 588.93,78.98 586.9,78.9C584.87,78.82 582.7,78.52 580.8,78C578.9,77.48 576.82,76.53 575.5,75.8C574.18,75.07 573.42,74.4 572.9,73.6C572.38,72.8 571.82,71.93 572.4,71Z" fill="#d6b604" />
<ellipse cx="590.8" cy="71.2" rx="4.8" ry="2.4" fill="#fff"/>
<path d="M597,58.5 C601,57.5 606,58 609,60 M601,62 C604,61.5 607,62 609,63.5" stroke="#e8d060" stroke-width="0.8" fill="none"/>
<text x="536.2" y="75.8" font-size="13.5" fill="#d8b020" font-weight="normal" text-anchor="start" stroke="#d8b020" stroke-width="0.4">-OMe</text>
<path d="M592.2,82.6 C592.5,80.8 598,80.6 602.5,81.8 C606,82 611,82.6 613.6,85.2 C612.8,87 609,86.8 605.5,85.6 C601,84.6 596,85.2 593,84.4 Z" fill="#ececec" stroke="#a8a8a8" stroke-width="0.9"/>
<path d="M580.4,96.7C580.6,95.25 581.53,94.18 582.8,93.2C584.07,92.22 585.97,91.28 588,90.8C590.03,90.32 593.05,90.1 595,90.3C596.95,90.5 597.95,91.82 599.7,92C601.45,92.18 603.75,91.88 605.5,91.4C607.25,90.92 609.02,89.87 610.2,89.1C611.38,88.33 611.43,87.18 612.6,86.8C613.77,86.42 616.03,86.32 617.2,86.8C618.37,87.28 619.4,88.63 619.6,89.7C619.8,90.77 617.82,92.23 618.4,93.2C618.98,94.17 621.93,94.53 623.1,95.5C624.27,96.47 625.32,97.83 625.4,99C625.48,100.17 624.97,101.82 623.6,102.5C622.23,103.18 619.43,103.1 617.2,103.1C614.97,103.1 612.33,102.4 610.2,102.5C608.07,102.6 606.35,103.22 604.4,103.7C602.45,104.18 600.25,104.82 598.5,105.4C596.75,105.98 595.45,106.9 593.9,107.2C592.35,107.5 590.57,107.68 589.2,107.2C587.83,106.72 586.97,105.18 585.7,104.3C584.43,103.42 582.48,103.17 581.6,101.9C580.72,100.63 580.2,98.15 580.4,96.7Z" fill="#0000d6" />
<path d="M590.5,97.8 C598,98.3 606,98.3 620,99.5" stroke="#b8b8f4" stroke-width="1.6" fill="none" stroke-dasharray="2.5 0.8" filter="url(#bl2)"/>
<path d="M606.7,106.6 h3.5" stroke="#606090" stroke-width="0.8"/>
<text x="628.4" y="104.3" font-size="13.4" fill="#1010c0" stroke="#1010c0" stroke-width="0.45">A<tspan dx="0.3" dy="3.8" font-size="8" font-weight="normal">γ</tspan></text>
<text x="553.2" y="112.7" font-size="13.4" fill="#98c830" stroke="#98c830" stroke-width="0.45">F<tspan dx="0.3" dy="3.8" font-size="8" font-weight="normal">γ</tspan></text>
<ellipse cx="570.5" cy="109" rx="3.6" ry="2.7" fill="#8cc814"/>
<ellipse cx="570.5" cy="109" rx="1" ry="0.6" fill="#c8f080"/>
<path d="M580.4,116.5C580.8,115.33 581.73,113.37 583.4,112.5C585.07,111.63 587.88,111.22 590.4,111.3C592.92,111.38 596.37,112.8 598.5,113C600.63,113.2 601.45,112.5 603.2,112.5C604.95,112.5 607.35,112.33 609,113C610.65,113.67 612.7,115.23 613.1,116.5C613.5,117.77 612.47,119.72 611.4,120.6C610.33,121.48 608.27,121.7 606.7,121.8C605.13,121.9 603.55,121 602,121.2C600.45,121.4 599.33,122.62 597.4,123C595.47,123.38 592.55,123.7 590.4,123.5C588.25,123.3 586.07,122.47 584.5,121.8C582.93,121.13 581.68,120.38 581,119.5C580.32,118.62 580,117.67 580.4,116.5Z" fill="#b2d8e2" />
<path d="M585,117 C592,116.5 600,118 610,117" stroke="#e0f0f6" stroke-width="0.9" fill="none" filter="url(#bl2)" stroke-dasharray="2 1"/>
<text x="615.6" y="121.4" font-size="13.4" fill="#287890" stroke="#287890" stroke-width="0.45">X<tspan dx="0.3" dy="3.8" font-size="7.5" font-weight="normal">5</tspan></text>
<ellipse cx="599.7" cy="141.8" rx="5.7" ry="4.6" fill="#a0a0a0"/>
<ellipse cx="599.7" cy="141.8" rx="0.6" ry="0.5" fill="#f0f0f0"/>
<ellipse cx="602.3" cy="164.1" rx="1.9" ry="1.6" fill="none" stroke="#a8a8a8" stroke-width="1"/>
<path d="M516.9,179C517.48,177.55 519.55,175.8 521.3,174.7C523.05,173.6 525.5,173.13 527.4,172.4C529.3,171.67 531.23,170.37 532.7,170.3C534.17,170.23 535.42,170.98 536.2,172C536.98,173.02 537.55,174.78 537.4,176.4C537.25,178.02 536.53,180.3 535.3,181.7C534.07,183.1 532.05,184.13 530,184.8C527.95,185.47 525.03,185.93 523,185.7C520.97,185.47 518.82,184.52 517.8,183.4C516.78,182.28 516.32,180.45 516.9,179Z" fill="#0000d6" />
<ellipse cx="531" cy="175" rx="1" ry="0.5" fill="#c0c0ff"/>
<text x="501.6" y="182.6" font-size="13.4" fill="#1010c0" stroke="#1010c0" stroke-width="0.45">A<tspan dx="0.3" dy="3.8" font-size="8" font-weight="normal">α</tspan></text>
<ellipse cx="564.5" cy="175.1" rx="6.7" ry="3.9" fill="#d800d8"/>
<ellipse cx="585.4" cy="175.1" rx="6.3" ry="3.9" fill="#d800d8"/>
<ellipse cx="564.5" cy="175.1" rx="0.8" ry="0.5" fill="#f8b0f8"/>
<ellipse cx="585.4" cy="175.1" rx="1" ry="0.5" fill="#f8b0f8"/>
<ellipse cx="595.3" cy="179.6" rx="4.8" ry="3.8" fill="#a0a0a0"/>
<ellipse cx="607.6" cy="182.2" rx="1.9" ry="1.6" fill="none" stroke="#a8a8a8" stroke-width="1"/>
<path d="M565,179 L574.7,189.6 L584.3,179" stroke="#d800d8" stroke-width="0.7" fill="none"/>
<text x="570.8" y="200.1" font-size="13.4" fill="#d020c8" stroke="#d020c8" stroke-width="0.45">B<tspan dx="0.3" dy="3.8" font-size="8" font-weight="normal">γ</tspan></text>
<text x="474.6" y="285.3" font-size="13.4" fill="#6a18c8" stroke="#6a18c8" stroke-width="0.45">C<tspan dx="0.3" dy="3.8" font-size="8" font-weight="normal">α</tspan></text>
<ellipse cx="493.6" cy="281.4" rx="3" ry="1.5" fill="none" stroke="#6a18c8" stroke-width="1.2"/>
<ellipse cx="537.5" cy="268.4" rx="7.3" ry="3.7" fill="#d800d8"/>
<ellipse cx="537.5" cy="268.4" rx="1" ry="0.5" fill="#f8b0f8"/>
<text x="532" y="285.1" font-size="13.4" fill="#d020c8" stroke="#d020c8" stroke-width="0.45">B<tspan dx="0.3" dy="3.8" font-size="8" font-weight="normal">α</tspan></text>
<path d="M552.1,258.9C551.98,257.68 552.62,256.02 553.6,255.2C554.58,254.38 556.67,253.75 558,254C559.33,254.25 560.63,255.4 561.6,256.7C562.57,258 563.07,260.1 563.8,261.8C564.53,263.5 566.12,265.93 566,266.9C565.88,267.87 564.32,267.85 563.1,267.6C561.88,267.35 560.17,266.25 558.7,265.4C557.23,264.55 555.4,263.58 554.3,262.5C553.2,261.42 552.22,260.12 552.1,258.9Z" fill="#0000d6" />
<ellipse cx="558.5" cy="260" rx="0.8" ry="2" fill="#c0c0ff" transform="rotate(-30 558.5 260)"/>
<text x="566.6" y="261.1" font-size="13.4" fill="#1010c0" stroke="#1010c0" stroke-width="0.45">A<tspan dx="0.6" dy="3.5" font-size="7.8" font-weight="bold">β(G)</tspan></text>
<path d="M558.7,274.2C558.93,273.17 560.72,272.22 562.3,271.6C563.88,270.98 566.25,270.43 568.2,270.5C570.15,270.57 572.42,271.27 574,272C575.58,272.73 576.48,273.93 577.7,274.9C578.92,275.87 580.45,276.58 581.3,277.8C582.15,279.02 583.17,281.1 582.8,282.2C582.43,283.3 580.57,284.08 579.1,284.4C577.63,284.72 575.45,284.58 574,284.1C572.55,283.62 571.85,282.3 570.4,281.5C568.95,280.7 566.88,279.92 565.3,279.3C563.72,278.68 562,278.65 560.9,277.8C559.8,276.95 558.47,275.23 558.7,274.2Z" fill="#0000d6" />
<ellipse cx="553.2" cy="276" rx="2.4" ry="1.2" fill="none" stroke="#0000d6" stroke-width="1"/>
<text x="585.2" y="282.6" font-size="13.4" fill="#1010c0" stroke="#1010c0" stroke-width="0.45">A<tspan dx="0.6" dy="4.2" font-size="7.8" font-weight="bold">β(S)</tspan></text>
<line x1="566.7" y1="280.8" x2="562.6" y2="295.2" stroke="#0000d6" stroke-width="0.7"/>
<line x1="579.1" y1="284.4" x2="588.6" y2="294.6" stroke="#0000d6" stroke-width="0.7"/>
<text x="551.9" y="300.4" font-size="7.2" fill="#2020d0" font-weight="bold" text-anchor="start" stroke="#2020d0" stroke-width="0.2">erythro</text>
<text x="580.4" y="300.4" font-size="7.2" fill="#2020d0" font-weight="bold" text-anchor="start" stroke="#2020d0" stroke-width="0.2">threo</text>
<path d="M95.6,389.3C95.78,388.1 96.27,386.88 97.2,386.2C98.13,385.52 99.68,385.45 101.2,385.2C102.72,384.95 104.25,385.03 106.3,384.7C108.35,384.37 111.1,383.72 113.5,383.2C115.9,382.68 118.15,382.03 120.7,381.6C123.25,381.17 126.25,380.72 128.8,380.6C131.35,380.48 133.78,380.55 136,380.9C138.22,381.25 140.23,381.98 142.1,382.7C143.97,383.42 145.5,384.27 147.2,385.2C148.9,386.13 150.77,387.02 152.3,388.3C153.83,389.58 156.22,391.72 156.4,392.9C156.58,394.08 154.93,394.72 153.4,395.4C151.87,396.08 149.6,396.57 147.2,397C144.8,397.43 141.72,397.58 139,398C136.28,398.42 133.45,398.98 130.9,399.5C128.35,400.02 126.08,400.67 123.7,401.1C121.32,401.53 118.82,401.98 116.6,402.1C114.38,402.22 112.62,402.23 110.4,401.8C108.18,401.37 105.17,400.3 103.3,399.5C101.43,398.7 100.4,398.02 99.2,397C98,395.98 96.7,394.68 96.1,393.4C95.5,392.12 95.42,390.5 95.6,389.3Z" fill="#e01414" />
<path d="M140,390.5 C146,389.5 151,391 154,392.8 C150,394.5 145,394.5 140,393.5 Z" fill="#f07070"/>
<path d="M119.6,393 h5" stroke="#ffd0d0" stroke-width="1.2"/>
<ellipse cx="188" cy="392.3" rx="2" ry="0.5" fill="#b0b0b0"/>
<path d="M47,408.5C47.45,407.83 48.67,406.58 50,406C51.33,405.42 53,405.22 55,405C57,404.78 59.83,404.65 62,404.7C64.17,404.75 66,405.08 68,405.3C70,405.52 72,405.92 74,406C76,406.08 78.08,405.75 80,405.8C81.92,405.85 84.33,405.88 85.5,406.3C86.67,406.72 87,407.6 87,408.3C87,409 86.83,410.05 85.5,410.5C84.17,410.95 81.25,410.83 79,411C76.75,411.17 74.5,411.37 72,411.5C69.5,411.63 66.67,411.77 64,411.8C61.33,411.83 58.33,411.8 56,411.7C53.67,411.6 51.45,411.48 50,411.2C48.55,410.92 47.8,410.45 47.3,410C46.8,409.55 46.55,409.17 47,408.5Z" fill="#e0681c" />
<path d="M48.94,408.43C49.34,408.09 50.44,407.47 51.64,407.18C52.84,406.88 54.34,406.78 56.14,406.68C57.94,406.57 60.49,406.5 62.44,406.52C64.39,406.55 66.04,406.72 67.84,406.83C69.64,406.93 71.44,407.13 73.24,407.18C75.04,407.22 76.91,407.05 78.64,407.08C80.36,407.1 82.54,407.12 83.59,407.33C84.64,407.53 84.94,407.98 84.94,408.33C84.94,408.68 84.79,409.2 83.59,409.43C82.39,409.65 79.76,409.59 77.74,409.68C75.71,409.76 73.69,409.86 71.44,409.93C69.19,409.99 66.64,410.06 64.24,410.08C61.84,410.09 59.14,410.07 57.04,410.02C54.94,409.97 52.94,409.92 51.64,409.77C50.33,409.63 49.66,409.4 49.21,409.18C48.76,408.95 48.53,408.76 48.94,408.43Z" fill="#f4c8a8" filter="url(#bl)"/>
<path d="M50,408.6 C58,408 66,408.8 78,408.6" stroke="#fbe0d0" stroke-width="1" fill="none" filter="url(#bl2)" stroke-dasharray="3 0.8"/>
<ellipse cx="82.3" cy="408.4" rx="3.4" ry="1.3" fill="#fff"/>
<ellipse cx="92.8" cy="425.8" rx="0.5" ry="0.5" fill="#909090"/>
<path d="M68.4,439.9C68.77,438.85 69.15,437.05 71.2,436.1C73.25,435.15 77.22,434.83 80.7,434.2C84.18,433.57 88.62,432.77 92.1,432.3C95.58,431.83 98.75,431.4 101.6,431.4C104.45,431.4 107.3,431.52 109.2,432.3C111.1,433.08 112.53,434.67 113,436.1C113.47,437.53 113.27,439.47 112,440.9C110.73,442.33 108.08,443.75 105.4,444.7C102.72,445.65 99.7,446.28 95.9,446.6C92.1,446.92 86.4,446.92 82.6,446.6C78.8,446.28 75.37,445.4 73.1,444.7C70.83,444 69.78,443.2 69,442.4C68.22,441.6 68.03,440.95 68.4,439.9Z" fill="#84464c" />
<path d="M72.78,439.46C73.08,438.98 73.38,438.17 75.02,437.75C76.66,437.32 79.84,437.18 82.62,436.89C85.41,436.61 88.96,436.25 91.74,436.04C94.53,435.83 97.06,435.63 99.34,435.63C101.62,435.63 103.9,435.68 105.42,436.04C106.94,436.39 108.09,437.1 108.46,437.75C108.84,438.39 108.68,439.26 107.66,439.91C106.65,440.55 104.53,441.19 102.38,441.62C100.24,442.04 97.82,442.33 94.78,442.47C91.74,442.61 87.18,442.61 84.14,442.47C81.1,442.33 78.36,441.93 76.54,441.62C74.73,441.3 73.89,440.94 73.26,440.58C72.64,440.22 72.49,439.93 72.78,439.46Z" fill="#a27a7e" filter="url(#bl)"/>
<path d="M80,440 C88,439.5 95,439.5 104,438.5" stroke="#c8a0a0" stroke-width="0.9" fill="none" filter="url(#bl2)" stroke-dasharray="2 1"/>
<path d="M78.8,465.5C79.12,464.12 79.75,462.33 82.6,461.4C85.45,460.47 90.52,460.22 95.9,459.9C101.28,459.58 109.2,459.67 114.9,459.5C120.6,459.33 126.15,458.68 130.1,458.9C134.05,459.12 136.87,459.85 138.6,460.8C140.33,461.75 140.97,463.33 140.5,464.6C140.03,465.87 138.17,467.55 135.8,468.4C133.43,469.25 128.52,468.92 126.3,469.7C124.08,470.48 124.08,472.53 122.5,473.1C120.92,473.67 118.7,473.42 116.8,473.1C114.9,472.78 113.95,471.35 111.1,471.2C108.25,471.05 103.5,472.03 99.7,472.2C95.9,472.37 91.47,472.62 88.3,472.2C85.13,471.78 82.28,470.82 80.7,469.7C79.12,468.58 78.48,466.88 78.8,465.5Z" fill="#84464c" />
<path d="M85.21,466.15C85.46,465.53 85.97,464.72 88.25,464.3C90.53,463.88 94.58,463.77 98.89,463.63C103.19,463.49 109.53,463.52 114.09,463.45C118.65,463.37 123.09,463.08 126.25,463.18C129.41,463.28 131.66,463.61 133.05,464.03C134.43,464.46 134.94,465.17 134.57,465.74C134.19,466.31 132.7,467.07 130.81,467.45C128.91,467.84 124.98,467.69 123.21,468.04C121.43,468.39 121.43,469.31 120.17,469.57C118.9,469.82 117.13,469.71 115.61,469.57C114.09,469.43 113.33,468.78 111.05,468.71C108.77,468.65 104.97,469.09 101.93,469.16C98.89,469.24 95.34,469.35 92.81,469.16C90.27,468.98 87.99,468.54 86.73,468.04C85.46,467.54 84.95,466.77 85.21,466.15Z" fill="#a27a7e" filter="url(#bl)"/>
<path d="M86,466 C96,465.5 110,465.5 134,463.5" stroke="#d8b8b8" stroke-width="1" fill="none" filter="url(#bl2)" stroke-dasharray="3 1"/>
<path d="M88.3,493.1C88.45,491.52 89.88,489.42 92.1,488.3C94.32,487.18 97.8,486.72 101.6,486.4C105.4,486.08 110.78,486.08 114.9,486.4C119.02,486.72 123.77,487.35 126.3,488.3C128.83,489.25 129.95,490.67 130.1,492.1C130.25,493.53 129.73,495.7 127.2,496.9C124.67,498.1 119.48,498.83 114.9,499.3C110.32,499.77 103.65,499.95 99.7,499.7C95.75,499.45 93.1,498.9 91.2,497.8C89.3,496.7 88.15,494.68 88.3,493.1Z" fill="#84464c" />
<path d="M92.37,492.95C92.49,492.24 93.63,491.29 95.41,490.79C97.18,490.29 99.97,490.08 103.01,489.94C106.05,489.79 110.35,489.79 113.65,489.94C116.94,490.08 120.74,490.36 122.77,490.79C124.79,491.22 125.69,491.86 125.81,492.5C125.93,493.15 125.51,494.12 123.49,494.66C121.46,495.2 117.31,495.53 113.65,495.74C109.98,495.95 104.65,496.03 101.49,495.92C98.33,495.81 96.21,495.56 94.69,495.07C93.17,494.57 92.25,493.66 92.37,492.95Z" fill="#a27a7e" filter="url(#bl)"/>
<path d="M98,493 C105,492.5 112,492.5 122,492" stroke="#c8a0a0" stroke-width="0.9" fill="none" filter="url(#bl2)" stroke-dasharray="2 1"/>
<path d="M75.00,467.60 C71.90,467.60 71.40,468.10 71.40,471.60 L71.40,477.45 C71.40,479.95 70.35,481.45 68.80,481.45 C70.35,481.45 71.40,482.95 71.40,485.45 L71.40,492.30 C71.40,495.80 71.90,496.30 75.00,496.30" stroke="#8a5858" stroke-width="1.1" fill="none" stroke-linecap="round"/>
<text x="29.80" y="486.60" font-size="13.4" fill="#8a5858" stroke="#8a5858" stroke-width="0.45">G<tspan dx="0.3" dy="3.9" font-size="8.3">5</tspan><tspan dx="-0.9" dy="-3.9">+G</tspan><tspan dx="0.1" dy="3.9" font-size="8.3">6</tspan></text>
<text x="110.3" y="374.8" font-size="13.4" fill="#e01414" stroke="#e01414" stroke-width="0.45">S<tspan dx="0.4" dy="4.2" font-size="7.8" font-weight="bold">2,6</tspan></text>
<text x="52" y="395.4" font-size="13.4" fill="#e0681c" stroke="#e0681c" stroke-width="0.45">S'<tspan dx="0.4" dy="4.2" font-size="7.8" font-weight="bold">2,6</tspan></text>
<text x="119.8" y="444.4" font-size="13.4" fill="#8a5858" stroke="#8a5858" stroke-width="0.45">G<tspan dx="0.4" dy="3.9" font-size="8.3" font-weight="normal">2</tspan></text>
<path d="M324,387.6C324.27,386.68 324.83,385.95 326.2,385.4C327.57,384.85 329.92,384.57 332.2,384.3C334.48,384.03 337.15,383.98 339.9,383.8C342.65,383.62 345.78,383.43 348.7,383.2C351.62,382.97 354.48,382.58 357.4,382.4C360.32,382.22 363.65,382.05 366.2,382.1C368.75,382.15 370.97,382.15 372.7,382.7C374.43,383.25 375.5,384.5 376.6,385.4C377.7,386.3 377.93,387.28 379.3,388.1C380.67,388.92 383.43,389.57 384.8,390.3C386.17,391.03 387.5,391.85 387.5,392.5C387.5,393.15 386.53,393.73 384.8,394.2C383.07,394.67 379.65,394.93 377.1,395.3C374.55,395.67 371.68,395.95 369.5,396.4C367.32,396.85 365.65,397.18 364,398C362.35,398.82 361.07,400.3 359.6,401.3C358.13,402.3 357.02,403.27 355.2,404C353.38,404.73 351.25,405.23 348.7,405.7C346.15,406.17 342.28,406.72 339.9,406.8C337.52,406.88 336.05,406.75 334.4,406.2C332.75,405.65 331,404.5 330,403.5C329,402.5 328.4,401.3 328.4,400.2C328.4,399.1 330.08,398 330,396.9C329.92,395.8 328.8,394.6 327.9,393.6C327,392.6 325.25,391.9 324.6,390.9C323.95,389.9 323.73,388.52 324,387.6Z" fill="#e01414" />
<path d="M330,399 C336,398 345,398.5 356,399 L352,404.5 C345,405.5 336,405.5 331,403 Z" fill="#ee5050"/>
<path d="M339,393.3 C348,393.5 360,393 374,393.3 M352,389 h8" stroke="#ffc8c8" stroke-width="1" fill="none" filter="url(#bl2)" stroke-dasharray="2.5 0.8"/>
<path d="M273.3,408.1C273.6,407.3 274.45,406.42 275.9,405.9C277.35,405.38 279.82,405.27 282,405C284.18,404.73 287.1,404.52 289,404.3C290.9,404.08 291.93,403.58 293.4,403.7C294.87,403.82 296.2,404.63 297.8,405C299.4,405.37 300.97,405.83 303,405.9C305.03,405.97 307.67,405.48 310,405.4C312.33,405.32 315.1,405.17 317,405.4C318.9,405.63 320.52,406.22 321.4,406.8C322.28,407.38 322.58,408.25 322.3,408.9C322.02,409.55 321.45,410.33 319.7,410.7C317.95,411.07 314.13,410.88 311.8,411.1C309.47,411.32 307.75,411.78 305.7,412C303.65,412.22 301.7,412.25 299.5,412.4C297.3,412.55 294.83,412.82 292.5,412.9C290.17,412.98 287.83,412.98 285.5,412.9C283.17,412.82 280.4,412.77 278.5,412.4C276.6,412.03 274.97,411.42 274.1,410.7C273.23,409.98 273,408.9 273.3,408.1Z" fill="#e0681c" />
<path d="M278,409 C290,408.6 305,409.5 319,408.5" stroke="#fbe0d0" stroke-width="1" fill="none" filter="url(#bl2)" stroke-dasharray="3 0.8"/>
<ellipse cx="268.1" cy="435" rx="6.6" ry="2.5" fill="#a0a0a0"/>
<ellipse cx="268.1" cy="435" rx="2.6" ry="0.8" fill="#d8d8d8"/>
<path d="M299.7,441.6C300,440.57 300.4,439.12 302.3,438.1C304.2,437.08 307.3,436.28 311.1,435.5C314.9,434.72 321.02,433.75 325.1,433.4C329.18,433.05 332.68,433.05 335.6,433.4C338.52,433.75 340.7,434.62 342.6,435.5C344.5,436.38 347,437.53 347,438.7C347,439.87 344.5,441.43 342.6,442.5C340.7,443.57 338.52,444.45 335.6,445.1C332.68,445.75 328.9,446.1 325.1,446.4C321.3,446.7 316.3,446.97 312.8,446.9C309.3,446.83 306.15,446.43 304.1,446C302.05,445.57 301.23,445.03 300.5,444.3C299.77,443.57 299.4,442.63 299.7,441.6Z" fill="#84464c" />
<path d="M304.13,441.03C304.37,440.57 304.69,439.92 306.21,439.46C307.73,439 310.21,438.64 313.25,438.29C316.29,437.94 321.18,437.5 324.45,437.34C327.72,437.19 330.52,437.19 332.85,437.34C335.18,437.5 336.93,437.89 338.45,438.29C339.97,438.69 341.97,439.2 341.97,439.73C341.97,440.25 339.97,440.96 338.45,441.44C336.93,441.92 335.18,442.32 332.85,442.61C330.52,442.9 327.49,443.06 324.45,443.19C321.41,443.33 317.41,443.45 314.61,443.42C311.81,443.39 309.29,443.21 307.65,443.01C306.01,442.82 305.36,442.58 304.77,442.25C304.18,441.92 303.89,441.5 304.13,441.03Z" fill="#a27a7e" filter="url(#bl)"/>
<path d="M306,440.5 C315,440 328,440 340,439" stroke="#c8a0a0" stroke-width="0.9" fill="none" filter="url(#bl2)" stroke-dasharray="2 1"/>
<path d="M309.3,467C309.58,465.83 310.17,464.37 312.8,463.5C315.43,462.63 320.13,462.15 325.1,461.8C330.07,461.45 337.93,461.7 342.6,461.4C347.27,461.1 349.6,460.23 353.1,460C356.6,459.77 360.82,459.55 363.6,460C366.38,460.45 368.92,461.53 369.8,462.7C370.68,463.87 370.8,465.98 368.9,467C367,468.02 362.2,468.22 358.4,468.8C354.6,469.38 350.48,469.85 346.1,470.5C341.72,471.15 336.77,472.33 332.1,472.7C327.43,473.07 321.6,473.07 318.1,472.7C314.6,472.33 312.57,471.45 311.1,470.5C309.63,469.55 309.02,468.17 309.3,467Z" fill="#84464c" />
<path d="M315.3,466.48C315.53,465.95 315.99,465.29 318.1,464.9C320.21,464.51 323.97,464.29 327.94,464.14C331.91,463.98 338.21,464.09 341.94,463.96C345.67,463.82 347.54,463.43 350.34,463.33C353.14,463.22 356.51,463.12 358.74,463.33C360.97,463.53 362.99,464.02 363.7,464.54C364.41,465.07 364.5,466.02 362.98,466.48C361.46,466.93 357.62,467.02 354.58,467.29C351.54,467.55 348.25,467.76 344.74,468.05C341.23,468.34 337.27,468.88 333.54,469.04C329.81,469.21 325.14,469.21 322.34,469.04C319.54,468.88 317.91,468.48 316.74,468.05C315.57,467.62 315.07,467 315.3,466.48Z" fill="#a27a7e" filter="url(#bl)"/>
<path d="M316,467 C330,466.5 345,466 366,463.5" stroke="#d8b8b8" stroke-width="1" fill="none" filter="url(#bl2)" stroke-dasharray="3 1"/>
<path d="M319.8,493.3C320.08,491.85 321.25,489.27 323.3,488.1C325.35,486.93 328.3,486.45 332.1,486.3C335.9,486.15 342.02,486.62 346.1,487.2C350.18,487.78 354.12,488.78 356.6,489.8C359.08,490.82 361,491.98 361,493.3C361,494.62 359.67,496.67 356.6,497.7C353.53,498.73 347.27,499.2 342.6,499.5C337.93,499.8 332.1,499.95 328.6,499.5C325.1,499.05 323.07,497.83 321.6,496.8C320.13,495.77 319.52,494.75 319.8,493.3Z" fill="#84464c" />
<path d="M323.61,493.22C323.83,492.56 324.77,491.4 326.41,490.88C328.05,490.35 330.41,490.13 333.45,490.07C336.49,490 341.38,490.21 344.65,490.47C347.91,490.73 351.06,491.19 353.05,491.64C355.03,492.1 356.57,492.62 356.57,493.22C356.57,493.81 355.5,494.73 353.05,495.2C350.59,495.66 345.58,495.87 341.85,496.01C338.11,496.14 333.45,496.21 330.65,496.01C327.85,495.81 326.22,495.26 325.05,494.79C323.87,494.33 323.38,493.87 323.61,493.22Z" fill="#a27a7e" filter="url(#bl)"/>
<path d="M326,493.5 C335,493 345,493 356,493.5" stroke="#c8a0a0" stroke-width="0.9" fill="none" filter="url(#bl2)" stroke-dasharray="2 1"/>
<path d="M305.00,467.60 C301.90,467.60 301.40,468.10 301.40,471.60 L301.40,477.45 C301.40,479.95 300.35,481.45 298.80,481.45 C300.35,481.45 301.40,482.95 301.40,485.45 L301.40,492.30 C301.40,495.80 301.90,496.30 305.00,496.30" stroke="#8a5858" stroke-width="1.1" fill="none" stroke-linecap="round"/>
<text x="259.90" y="486.60" font-size="13.4" fill="#8a5858" stroke="#8a5858" stroke-width="0.45">G<tspan dx="0.3" dy="3.9" font-size="8.3">5</tspan><tspan dx="-0.9" dy="-3.9">+G</tspan><tspan dx="0.1" dy="3.9" font-size="8.3">6</tspan></text>
<text x="340.5" y="374.8" font-size="13.4" fill="#e01414" stroke="#e01414" stroke-width="0.45">S<tspan dx="0.4" dy="4.2" font-size="7.8" font-weight="bold">2,6</tspan></text>
<text x="279.2" y="395.4" font-size="13.4" fill="#e0681c" stroke="#e0681c" stroke-width="0.45">S'<tspan dx="0.4" dy="4.2" font-size="7.8" font-weight="bold">2,6</tspan></text>
<text x="352.6" y="444.4" font-size="13.4" fill="#8a5858" stroke="#8a5858" stroke-width="0.45">G<tspan dx="0.4" dy="3.9" font-size="8.3" font-weight="normal">2</tspan></text>
<path d="M557.1,388.7C557.47,387.97 557.75,387.05 559.3,386.5C560.85,385.95 563.38,385.77 566.4,385.4C569.42,385.03 573.75,384.75 577.4,384.3C581.05,383.85 584.83,383.25 588.3,382.7C591.77,382.15 595.47,381.37 598.2,381C600.93,380.63 603.07,380.32 604.7,380.5C606.33,380.68 606.9,381.18 608,382.1C609.1,383.02 609.83,384.72 611.3,386C612.77,387.28 614.97,388.43 616.8,389.8C618.63,391.17 622.12,393.2 622.3,394.2C622.48,395.2 619.73,395.43 617.9,395.8C616.07,396.17 613.5,395.95 611.3,396.4C609.1,396.85 606.88,397.78 604.7,398.5C602.52,399.22 600.93,400.23 598.2,400.7C595.47,401.17 591.58,401.12 588.3,401.3C585.02,401.48 581.6,401.98 578.5,401.8C575.4,401.62 572.27,400.93 569.7,400.2C567.13,399.47 564.92,398.5 563.1,397.4C561.28,396.3 559.8,394.68 558.8,393.6C557.8,392.52 557.38,391.72 557.1,390.9C556.82,390.08 556.73,389.43 557.1,388.7Z" fill="#e01414" />
<path d="M605,390 C611,390 616,392 620,394 C615,395 610,395 605,394 Z" fill="#f06060"/>
<path d="M569,393.5 C580,393.5 592,393.5 604,393 M587,389 h10" stroke="#ffc8c8" stroke-width="1" fill="none" filter="url(#bl2)" stroke-dasharray="2.5 0.8"/>
<ellipse cx="594.4" cy="404" rx="3.4" ry="1.1" fill="none" stroke="#a8b0b0" stroke-width="0.9"/>
<path d="M505.3,408.1C505.75,407.37 507.05,406.42 508.8,405.9C510.55,405.38 513.47,405.27 515.8,405C518.13,404.73 520.92,404.47 522.8,404.3C524.68,404.13 525.65,403.82 527.1,404C528.55,404.18 529.88,405.17 531.5,405.4C533.12,405.63 534.75,405.47 536.8,405.4C538.85,405.33 541.18,405 543.8,405C546.42,405 550.47,405.03 552.5,405.4C554.53,405.77 555.55,406.53 556,407.2C556.45,407.87 556.07,408.88 555.2,409.4C554.33,409.92 553,410.08 550.8,410.3C548.6,410.52 544.63,410.42 542,410.7C539.37,410.98 537.03,411.57 535,412C532.97,412.43 531.55,413.3 529.8,413.3C528.05,413.3 526.55,412.28 524.5,412C522.45,411.72 519.83,411.75 517.5,411.6C515.17,411.45 512.4,411.32 510.5,411.1C508.6,410.88 506.97,410.8 506.1,410.3C505.23,409.8 504.85,408.83 505.3,408.1Z" fill="#e0681c" />
<path d="M510,408.6 C522,408.4 538,409.5 552,408" stroke="#fbe0d0" stroke-width="1" fill="none" filter="url(#bl2)" stroke-dasharray="3 0.8"/>
<ellipse cx="499.7" cy="434.4" rx="4.4" ry="1.7" fill="none" stroke="#a8a8a8" stroke-width="1"/>
<path d="M531.7,440.8C532,439.63 533.62,438.33 536.1,437.3C538.58,436.27 543.1,435.33 546.6,434.6C550.1,433.87 553.6,433.27 557.1,432.9C560.6,432.53 564.68,432.12 567.6,432.4C570.52,432.68 572.85,433.65 574.6,434.6C576.35,435.55 577.95,436.78 578.1,438.1C578.25,439.42 576.97,441.18 575.5,442.5C574.03,443.82 571.2,444.97 569.3,446C567.4,447.03 566.13,448.47 564.1,448.7C562.07,448.93 560.32,447.85 557.1,447.4C553.88,446.95 548.6,446.52 544.8,446C541,445.48 536.48,445.17 534.3,444.3C532.12,443.43 531.4,441.97 531.7,440.8Z" fill="#84464c" />
<path d="M536.7,440.6C536.94,440.07 538.23,439.49 540.22,439.02C542.2,438.56 545.82,438.14 548.62,437.81C551.42,437.48 554.22,437.21 557.02,437.04C559.82,436.88 563.08,436.69 565.42,436.82C567.75,436.94 569.62,437.38 571.02,437.81C572.42,438.23 573.7,438.79 573.82,439.38C573.94,439.97 572.91,440.77 571.74,441.36C570.56,441.95 568.3,442.47 566.78,442.94C565.26,443.4 564.24,444.05 562.62,444.15C560.99,444.26 559.59,443.77 557.02,443.57C554.44,443.36 550.22,443.17 547.18,442.94C544.14,442.7 540.52,442.56 538.78,442.17C537.03,441.78 536.46,441.12 536.7,440.6Z" fill="#a27a7e" filter="url(#bl)"/>
<path d="M540,440.5 C550,440 560,440 572,438.5" stroke="#c8a0a0" stroke-width="0.9" fill="none" filter="url(#bl2)" stroke-dasharray="2 1"/>
<path d="M540.4,468.8C540.55,467.63 540.9,465.42 543.1,464.4C545.3,463.38 549.52,462.98 553.6,462.7C557.68,462.42 563.52,463 567.6,462.7C571.68,462.4 574.6,461.4 578.1,460.9C581.6,460.4 585.1,459.7 588.6,459.7C592.1,459.7 596.62,460.12 599.1,460.9C601.58,461.68 603.5,463.23 603.5,464.4C603.5,465.57 601.87,467.02 599.1,467.9C596.33,468.78 590.98,469.12 586.9,469.7C582.82,470.28 578.98,470.82 574.6,471.4C570.22,471.98 564.98,472.9 560.6,473.2C556.22,473.5 551.37,473.5 548.3,473.2C545.23,472.9 543.52,472.13 542.2,471.4C540.88,470.67 540.25,469.97 540.4,468.8Z" fill="#84464c" />
<path d="M546.4,467.55C546.52,467.02 546.8,466.02 548.56,465.57C550.32,465.11 553.69,464.93 556.96,464.8C560.23,464.67 564.89,464.94 568.16,464.8C571.43,464.67 573.76,464.22 576.56,463.99C579.36,463.77 582.16,463.45 584.96,463.45C587.76,463.45 591.37,463.64 593.36,463.99C595.35,464.34 596.88,465.04 596.88,465.57C596.88,466.09 595.57,466.74 593.36,467.14C591.15,467.54 586.87,467.69 583.6,467.95C580.33,468.21 577.27,468.45 573.76,468.72C570.25,468.98 566.07,469.39 562.56,469.53C559.05,469.66 555.17,469.66 552.72,469.53C550.27,469.39 548.89,469.05 547.84,468.72C546.79,468.39 546.28,468.07 546.4,467.55Z" fill="#a27a7e" filter="url(#bl)"/>
<path d="M547,467 C560,466.5 578,466 598,464" stroke="#d8b8b8" stroke-width="1" fill="none" filter="url(#bl2)" stroke-dasharray="3 1"/>
<path d="M548.3,493.3C548.73,492.27 549.47,490.73 551.8,489.8C554.13,488.87 558.5,488.28 562.3,487.7C566.1,487.12 570.8,486.3 574.6,486.3C578.4,486.3 582.03,486.68 585.1,487.7C588.17,488.72 592.12,490.88 593,492.4C593.88,493.92 592.88,495.62 590.4,496.8C587.92,497.98 582.48,498.97 578.1,499.5C573.72,500.03 568.18,500.15 564.1,500C560.02,499.85 556.08,499.27 553.6,498.6C551.12,497.93 550.08,496.88 549.2,496C548.32,495.12 547.87,494.33 548.3,493.3Z" fill="#84464c" />
<path d="M552.29,493.39C552.63,492.93 553.22,492.24 555.09,491.81C556.95,491.39 560.45,491.13 563.49,490.87C566.53,490.61 570.29,490.24 573.33,490.24C576.37,490.24 579.27,490.41 581.73,490.87C584.18,491.33 587.34,492.3 588.05,492.99C588.75,493.67 587.95,494.43 585.97,494.97C583.98,495.5 579.63,495.94 576.13,496.18C572.62,496.42 568.19,496.47 564.93,496.41C561.66,496.34 558.51,496.08 556.53,495.78C554.54,495.48 553.71,495 553.01,494.61C552.3,494.21 551.94,493.86 552.29,493.39Z" fill="#a27a7e" filter="url(#bl)"/>
<path d="M554,494 C565,493.5 578,493.5 590,492.5" stroke="#c8a0a0" stroke-width="0.9" fill="none" filter="url(#bl2)" stroke-dasharray="2 1"/>
<path d="M537.00,467.60 C533.90,467.60 533.40,468.10 533.40,471.60 L533.40,477.45 C533.40,479.95 532.35,481.45 530.80,481.45 C532.35,481.45 533.40,482.95 533.40,485.45 L533.40,492.30 C533.40,495.80 533.90,496.30 537.00,496.30" stroke="#8a5858" stroke-width="1.1" fill="none" stroke-linecap="round"/>
<text x="491.20" y="486.60" font-size="13.4" fill="#8a5858" stroke="#8a5858" stroke-width="0.45">G<tspan dx="0.3" dy="3.9" font-size="8.3">5</tspan><tspan dx="-0.9" dy="-3.9">+G</tspan><tspan dx="0.1" dy="3.9" font-size="8.3">6</tspan></text>
<text x="573.8" y="374.8" font-size="13.4" fill="#e01414" stroke="#e01414" stroke-width="0.45">S<tspan dx="0.4" dy="4.2" font-size="7.8" font-weight="bold">2,6</tspan></text>
<text x="511" y="395.4" font-size="13.4" fill="#e0681c" stroke="#e0681c" stroke-width="0.45">S'<tspan dx="0.4" dy="4.2" font-size="7.8" font-weight="bold">2,6</tspan></text>
<text x="583" y="444.4" font-size="13.4" fill="#8a5858" stroke="#8a5858" stroke-width="0.45">G<tspan dx="0.4" dy="3.9" font-size="8.3" font-weight="normal">2</tspan></text>
</svg>
</body></html>
